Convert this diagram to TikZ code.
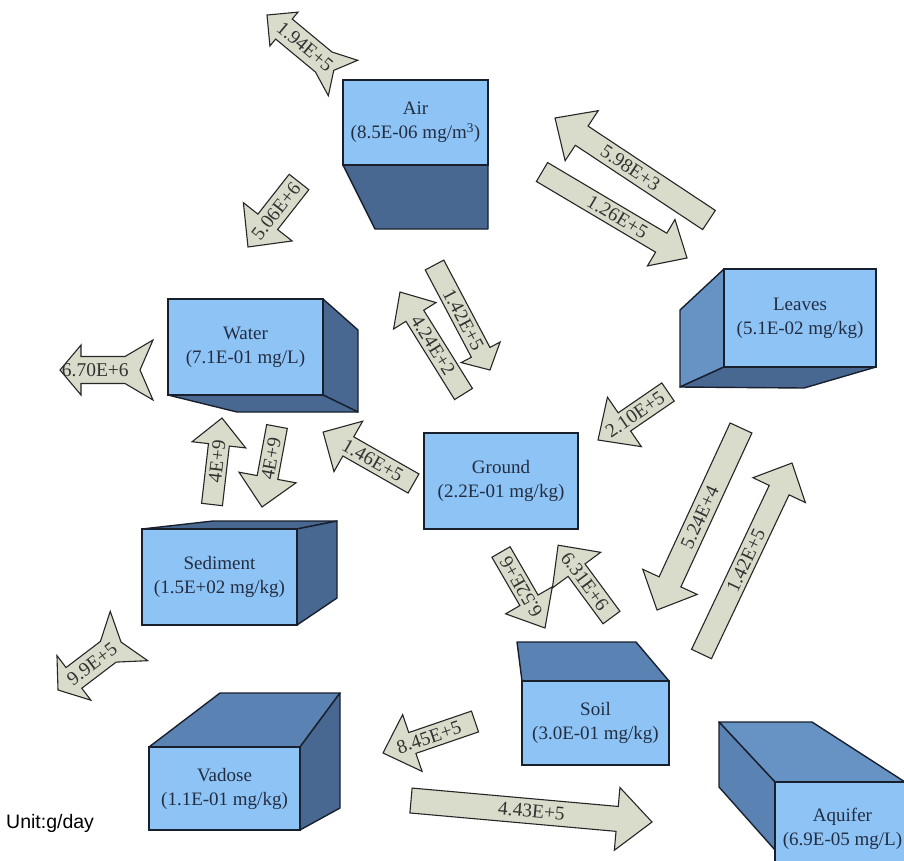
\documentclass[tikz,border=0pt]{standalone}
\usepackage{fontspec}
\setmainfont{Liberation Serif}
\newfontfamily\unitfont{Liberation Sans}
\usetikzlibrary{calc}
\definecolor{frontcol}{RGB}{141,195,245}
\definecolor{sidecol}{RGB}{102,146,196}
\definecolor{sidecolb}{RGB}{90,130,178}
\definecolor{darkcol}{RGB}{72,104,146}
\definecolor{arrowcol}{RGB}{218,220,203}
\definecolor{edgecol}{RGB}{25,32,45}
\definecolor{txtcol}{RGB}{35,45,65}

\pgfkeys{/ba/.is family}
\pgfkeys{/ba/.cd,
  w/.store in=\baw, h/.store in=\bah, hl/.store in=\bahl,
  T/.store in=\baT, n/.store in=\ban, f/.store in=\baf,
  notched/.store in=\banotch, flip/.store in=\baflip, pos/.store in=\bapos}

\newcommand\blockarrow[7][]{%
  \pgfkeys{/ba/.cd, w=11, h=28, hl=30, T=28, n=12, f=26, notched=0, flip=0, pos=0.47, #1}%
  \coordinate (#2-tail) at (#3,#4);%
  \coordinate (#2-tip) at (#5,#6);%
  \pgfmathsetmacro\badx{#5-#3}%
  \pgfmathsetmacro\bady{#6-#4}%
  \pgfmathsetmacro\baang{atan2(-\bady,\badx)}%
  \pgfmathsetmacro\balen{veclen(\badx,\bady)}%
  \pgfmathsetmacro\bab{\balen-\bahl}%
  \pgfmathsetmacro\batxt{\baang+180*\baflip}%
  \begin{scope}[shift={(#2-tail)}, rotate=\baang, x=1pt, y=1pt]
    \ifnum\banotch=1
      \draw[arrowbody] (0,\baT) -- (\ban,0) -- (0,-\baT) -- (\baf,-\baw) -- (\bab,-\baw) -- (\bab,-\bah) -- (\balen,0) -- (\bab,\bah) -- (\bab,\baw) -- (\baf,\baw) -- cycle;
    \else
      \draw[arrowbody] (0,\baw) -- (\bab,\baw) -- (\bab,\bah) -- (\balen,0) -- (\bab,-\bah) -- (\bab,-\baw) -- (0,-\baw) -- cycle;
    \fi
  \end{scope}
  \node[arrowlabel, rotate=\batxt] (#2) at ($(#2-tail)!\bapos!(#2-tip)$) {#7};%
}

\tikzset{
  arrowbody/.style={draw=black!85, fill=arrowcol, line width=1.1pt, line join=miter},
  arrowlabel/.style={inner sep=0pt, text=black!80, font=\fontsize{19.5}{21}\selectfont},
  frontbox/.style={draw=edgecol, fill=frontcol, line width=1.4pt, inner sep=0pt, align=center,
    text=txtcol, font=\fontsize{19}{24}\selectfont},
  darkface/.style={draw=edgecol, fill=darkcol, line width=1.4pt, line join=round},
  sideface/.style={draw=edgecol, fill=sidecol, line width=1.4pt, line join=round},
  sidefaceb/.style={draw=edgecol, fill=sidecolb, line width=1.4pt, line join=round}
}

\begin{document}
\begin{tikzpicture}[x=1pt, y=-1pt]
\fill[white] (0,0) rectangle (904,860);
\useasboundingbox (0,0) rectangle (904,860);

% Air
\filldraw[darkface] (343,165) -- (488,165) -- (488,229) -- (375,229) -- cycle;
\node[frontbox, minimum width=145pt, minimum height=85pt] (air) at (415.5,122.5) {Air\\(8.5E-06 mg/m\textsuperscript{3})};

% Water
\filldraw[darkface] (323,299) -- (358,330) -- (358,412) -- (323,395) -- cycle;
\filldraw[darkface] (168,395) -- (323,395) -- (358,412) -- (237,412) -- cycle;
\node[frontbox, minimum width=155pt, minimum height=96pt] (water) at (245.5,347) {Water\\(7.1E-01 mg/L)};

% Leaves
\filldraw[sideface] (724,269) -- (680,310) -- (680,387) -- (724,367) -- cycle;
\filldraw[darkface] (724,367) -- (876,367) -- (804,388) -- (680,387) -- cycle;
\node[frontbox, minimum width=152pt, minimum height=98pt] (leaves) at (800,318) {Leaves\\(5.1E-02 mg/kg)};

% Ground
\node[frontbox, minimum width=154pt, minimum height=96pt] (ground) at (501,481) {Ground\\(2.2E-01 mg/kg)};

% Sediment
\filldraw[darkface] (142,529) -- (213,521) -- (337,521) -- (297,529) -- cycle;
\filldraw[darkface] (297,529) -- (337,521) -- (337,598) -- (297,625) -- cycle;
\node[frontbox, minimum width=155pt, minimum height=96pt] (sediment) at (219.5,577) {Sediment\\(1.5E+02 mg/kg)};

% Vadose
\filldraw[sidefaceb] (149,747) -- (220,693) -- (340,693) -- (300,747) -- cycle;
\filldraw[darkface] (300,747) -- (340,693) -- (340,808) -- (300,830) -- cycle;
\node[frontbox, minimum width=151pt, minimum height=83pt] (vadose) at (224.5,788.5) {Vadose\\(1.1E-01 mg/kg)};

% Soil
\filldraw[sidefaceb] (517,642) -- (636,642) -- (669,681) -- (522,681) -- cycle;
\node[frontbox, minimum width=147pt, minimum height=84pt] (soil) at (595.5,723) {Soil\\(3.0E-01 mg/kg)};

% Aquifer
\filldraw[sideface] (719,722) -- (812,722) -- (905,782) -- (775,782) -- cycle;
\filldraw[sidefaceb] (719,722) -- (775,782) -- (775,850) -- (719,787) -- cycle;
\node[frontbox, minimum width=135pt, minimum height=93pt] (aquifer) at (842.5,828.5) {Aquifer\\(6.9E-05 mg/L)};

% Flow arrows
\blockarrow[notched=1, w=13, h=22, hl=22, T=23, n=12, f=25, flip=1, pos=0.5]{a1}{343}{78}{267}{15}{1.94E+5}
\blockarrow[w=12.5, h=31, hl=32, flip=1, pos=0.45]{a2}{299}{182}{248}{247}{5.06E+6}
\blockarrow[w=11.5, h=30, hl=32, flip=1, pos=0.51]{a3}{709}{220}{555}{118}{5.98E+3}
\blockarrow[w=11, h=27, hl=30, pos=0.52]{a4}{542}{172}{687}{258}{1.26E+5}
\blockarrow[w=10.5, h=22, hl=20, pos=0.52]{a5}{434.5}{265}{490}{370}{1.42E+5}
\blockarrow[w=10.5, h=25, hl=28, flip=1, pos=0.48]{a6}{463.5}{394}{400}{292}{4.24E+2}
\blockarrow[notched=1, w=13.5, h=25, hl=21, T=30, n=13, f=28, flip=1, pos=0.62]{a7}{153}{370}{60}{370}{6.70E+6}
\blockarrow[w=11, h=30, hl=32, flip=1, pos=0.47]{a8}{668}{392}{598}{440}{2.10E+5}
\blockarrow[w=10.5, h=27, hl=27, pos=0.5]{a9}{212}{504.5}{222}{418}{4E+9}
\blockarrow[w=10.5, h=29, hl=30, flip=1, pos=0.4]{a10}{277}{426.5}{262}{507}{4E+9}
\blockarrow[w=11, h=29, hl=29, flip=1, pos=0.45]{a11}{413.5}{483.5}{323}{432}{1.46E+5}
\blockarrow[w=10.5, h=27, hl=32, flip=1, pos=0.46]{a12}{501}{552}{545}{628}{6.52E+6}
\blockarrow[w=10.5, h=30, hl=31, flip=1, pos=0.5]{a13}{611.5}{617.5}{558}{545}{6.31E+6}
\blockarrow[w=12, h=30, hl=31, flip=1, pos=0.49]{a14}{741}{428}{657}{610}{5.24E+4}
\blockarrow[w=11, h=29, hl=30, pos=0.49]{a15}{701.5}{654}{792}{463}{1.42E+5}
\blockarrow[notched=1, w=13, h=28, hl=20, T=31, n=10, f=26, flip=1, pos=0.52]{a16}{129}{636}{58}{690}{9.9E+5}
\blockarrow[w=11, h=30, hl=31, flip=1, pos=0.5]{a17}{475}{721.5}{383}{753}{8.45E+5}
\blockarrow[w=12.5, h=31.5, hl=35, pos=0.5]{a18}{411}{800.5}{652}{822}{4.43E+5}

\node[anchor=west, inner sep=0pt, font=\unitfont\fontsize{19.5}{21}\selectfont] (unit) at (6,823) {Unit:g/day};
\end{tikzpicture}
\end{document}
